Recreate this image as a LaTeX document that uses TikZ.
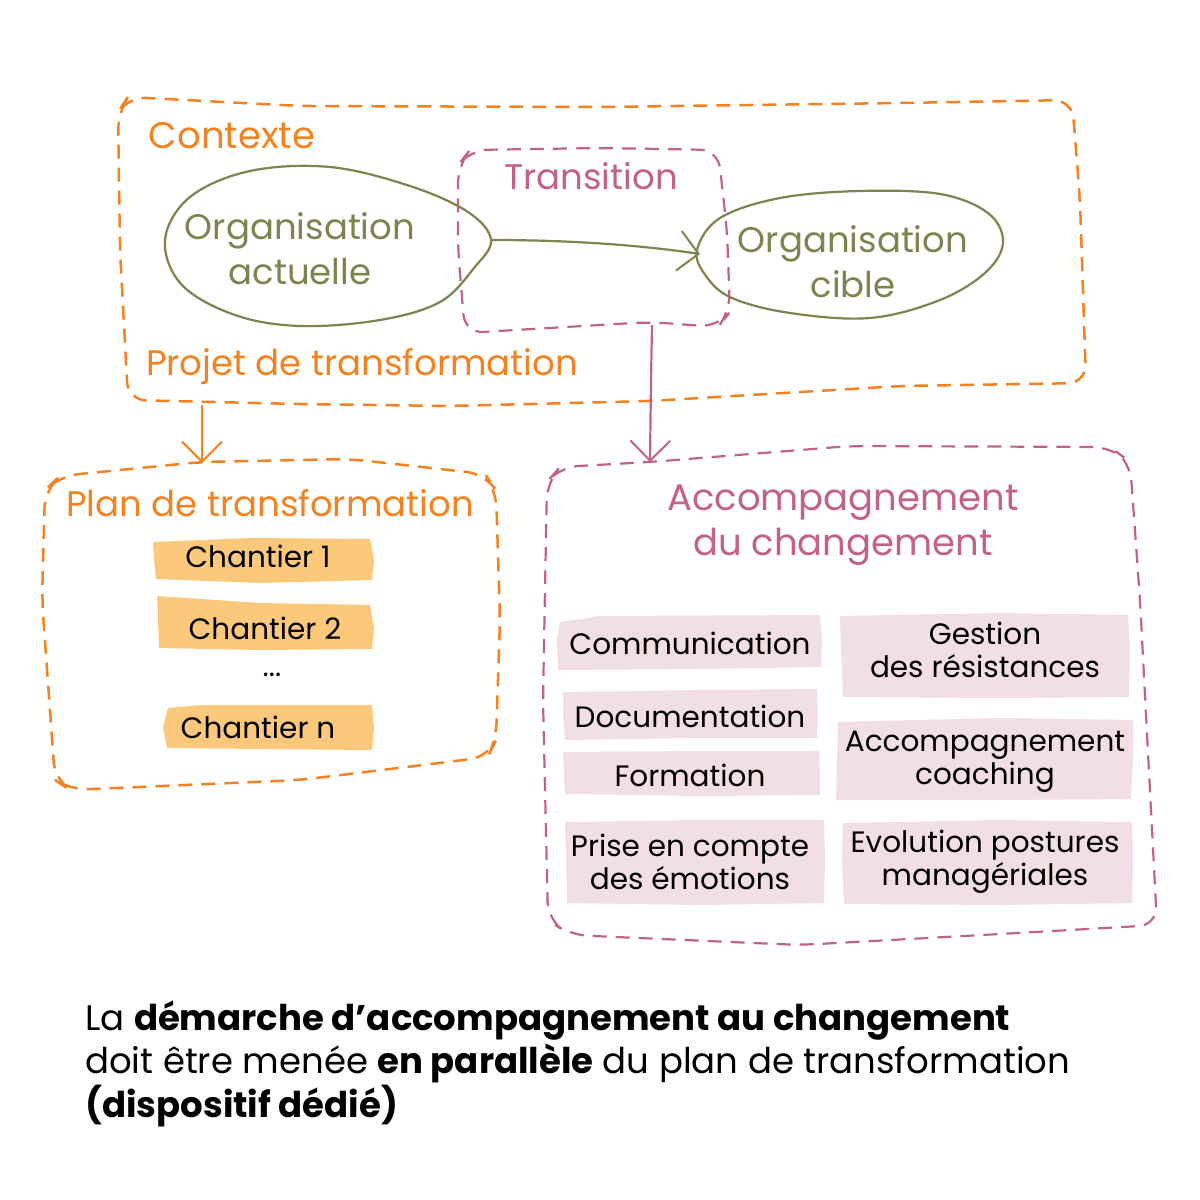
\documentclass[tikz,border=0pt]{standalone}
\usepackage{fontspec}
\setmainfont{Poppins}
\usetikzlibrary{arrows.meta}
\definecolor{cor}{HTML}{F58220}
\definecolor{cpk}{HTML}{C2618A}
\definecolor{col}{HTML}{7E8450}
\definecolor{fchan}{HTML}{FBC87C}
\definecolor{fpk}{HTML}{F2DEE5}
\begin{document}
\begin{tikzpicture}[x=1pt,y=-1pt,
 od/.style={draw=cor, line width=2.5pt, dash pattern=on 14pt off 9pt, rounded corners=18pt},
 pd/.style={draw=cpk, line width=2.2pt, dash pattern=on 14pt off 9pt, rounded corners=18pt},
 blobline/.style={draw=col, line width=2.2pt},
 big/.style={font=\fontsize{35.5}{45}\selectfont, align=center, inner sep=0pt},
 bigger/.style={font=\fontsize{37}{45}\selectfont, align=center, inner sep=0pt},
 boxtxt/.style={font=\fontsize{29.5}{33}\selectfont, align=center, text=black, inner sep=0pt},
 bot/.style={font=\fontsize{35.5}{44}\selectfont, anchor=base west, inner sep=0pt, text=black},
 vtip/.style={-{Straight Barb[length=20pt,width=40pt,line width=2pt]}}
]
\useasboundingbox (0,0) rectangle (1200,1200);
\fill[white] (0,0) rectangle (1200,1200);

% Contexte frame
\draw[od] (118,112) -- (128,97) -- (300,106) -- (600,107) -- (900,103) -- (1072,100) -- (1080,200) -- (1086,383) -- (900,386) -- (650,401) -- (450,406) -- (300,404) -- (128,400) -- (120,250) -- cycle;
% Transition frame
\draw[pd] (458,165) -- (470,150) -- (600,148) -- (718,150) -- (727,230) -- (730,312) -- (718,327) -- (650,322) -- (465,333) -- (458,250) -- cycle;

% blobs
\draw[blobline] plot[smooth cycle, tension=0.6] coordinates {(491,240) (468,212) (410,186) (330,167) (250,171) (190,197) (165,240) (182,285) (235,315) (300,326) (380,320) (440,302) (474,268)};
\draw[blobline] plot[smooth cycle, tension=0.6] coordinates {(697,250) (720,218) (780,198) (860,191) (940,194) (988,213) (1003,242) (986,272) (940,300) (870,318) (790,313) (732,298) (706,276)};

\coordinate (tipA) at (491,240);
\coordinate (tipB) at (700,254);
\draw[col, line width=2.2pt, vtip] (tipA) .. controls (570,240) and (640,245) .. (tipB);

\node[bigger, text=cor] (ctx) at (232,136) {Contexte};
\node[big, text=cpk] (trans) at (591,176) {Transition};
\node[big, text=col] (orgA) at (300,249) {Organisation\\actuelle};
\node[big, text=col] (orgB) at (853,262) {Organisation\\cible};
\node[big, text=cor] (proj) at (362,367) {Projet de transformation};

% arrows down
\coordinate (ctxB) at (202,405);
\coordinate (planT) at (202,463);
\draw[cor, line width=2.2pt, vtip] (ctxB) -- (planT);
\coordinate (transB) at (652,325);
\coordinate (accT) at (650,462);
\draw[cpk, line width=2.2pt, vtip] (transB) .. controls (651,380) .. (accT);

% Plan frame
\draw[od] (45,490) -- (60,476) -- (200,462) -- (350,459) -- (485,474) -- (496,490) -- (500,620) -- (496,740) -- (488,757) -- (300,780) -- (70,790) -- (55,780) -- (42,600) -- cycle;
\node[big, text=cor] (plan) at (270,503) {Plan de transformation};

% Chantier fills
\fill[fchan] (153,542) -- (250,538) -- (370,539) -- (374,560) -- (372,580) -- (260,583) -- (156,579) -- (154,560) -- cycle;
\fill[fchan] (157,596) -- (260,603) -- (370,605) -- (374,628) -- (372,649) -- (260,650) -- (159,648) -- (158,620) -- cycle;
\fill[fchan] (168,708) -- (200,705) -- (372,705) -- (374,728) -- (372,750) -- (260,749) -- (167,748) -- (163,727) -- cycle;
\node[boxtxt] (c1) at (258,556) {Chantier 1};
\node[boxtxt] (c2) at (265,628) {Chantier 2};
\node[boxtxt] (dots) at (272,675) {...};
\node[boxtxt] (cn) at (258,727) {Chantier n};

% Accompagnement frame
\draw[pd] (547,482) -- (560,467) -- (650,462) -- (850,446) -- (1110,447) -- (1130,462) -- (1140,600) -- (1157,925) -- (1000,934) -- (800,945) -- (570,935) -- (548,920) -- (543,700) -- cycle;
\node[bigger, text=cpk] (acc) at (843,525) {Accompagnement\\du changement};

% pink fills
\fill[fpk] (560,622) -- (600,616) -- (820,615) -- (822,640) -- (821,667) -- (700,669) -- (558,670) -- (557,640) -- cycle;
\fill[fpk] (563,692) -- (700,690) -- (817,689) -- (818,715) -- (817,738) -- (700,738) -- (565,740) -- (563,715) -- cycle;
\fill[fpk] (563,752) -- (700,751) -- (819,751) -- (820,775) -- (820,795) -- (700,796) -- (565,794) -- (564,775) -- cycle;
\fill[fpk] (565,822) -- (700,820) -- (824,820) -- (825,860) -- (824,903) -- (700,905) -- (567,903) -- (566,860) -- cycle;
\fill[fpk] (840,616) -- (1000,613) -- (1128,615) -- (1130,650) -- (1129,697) -- (1000,698) -- (843,697) -- (841,650) -- cycle;
\fill[fpk] (838,722) -- (1000,718) -- (1133,720) -- (1133,760) -- (1131,799) -- (1000,800) -- (836,800) -- (837,760) -- cycle;
\fill[fpk] (843,823) -- (1000,820) -- (1132,822) -- (1133,860) -- (1132,903) -- (1000,905) -- (844,904) -- (842,860) -- cycle;

\node[boxtxt] (com) at (690,643) {Communication};
\node[boxtxt] (doc) at (690,716) {Documentation};
\node[boxtxt] (form) at (690,775) {Formation};
\node[boxtxt] (prise) at (690,862) {Prise en compte\\des émotions};
\node[boxtxt] (gest) at (985,650) {Gestion\\des résistances};
\node[boxtxt] (coach) at (985,762) {Accompagnement\\coaching};
\node[boxtxt] (evol) at (985,862) {Evolution postures\\managériales};

% bottom text
\node[bot] (l1) at (85,1030) {La \textbf{démarche d’accompagnement au changement}};
\node[bot] (l2) at (85,1073) {doit être menée \textbf{en parallèle} du plan de transformation};
\node[bot] (l3) at (85,1117) {\textbf{(dispositif dédié)}};
\end{tikzpicture}
\end{document}
